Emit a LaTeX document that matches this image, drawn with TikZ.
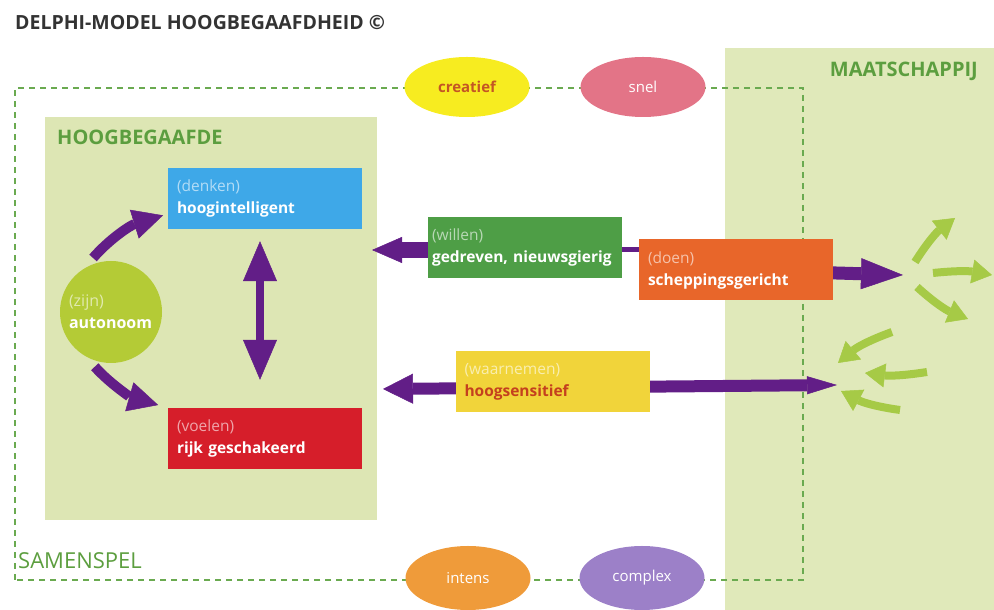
\documentclass[tikz,border=0pt]{standalone}
\usepackage{fontspec}
\setmainfont{Open Sans}
\usetikzlibrary{positioning,shapes.geometric,arrows.meta,calc}

\definecolor{panelgreen}{RGB}{221,230,180}
\definecolor{societygreen}{RGB}{224,233,186}
\definecolor{headgreen}{RGB}{92,158,63}
\definecolor{dashgreen}{RGB}{106,170,80}
\definecolor{thinkblue}{RGB}{62,168,232}
\definecolor{feelred}{RGB}{214,30,42}
\definecolor{willgreen}{RGB}{78,158,70}
\definecolor{doorange}{RGB}{232,102,42}
\definecolor{senseyellow}{RGB}{241,212,58}
\definecolor{senseorange}{RGB}{196,64,30}
\definecolor{beinglime}{RGB}{180,203,54}
\definecolor{arrowpurple}{RGB}{98,30,135}
\definecolor{sproutgreen}{RGB}{166,202,70}
\definecolor{creayellow}{RGB}{247,236,32}
\definecolor{creaorange}{RGB}{196,86,36}
\definecolor{fastpink}{RGB}{227,116,135}
\definecolor{intenseorange}{RGB}{239,155,58}
\definecolor{complexpurple}{RGB}{156,128,200}
\definecolor{titlegray}{RGB}{51,51,51}

\pgfdeclarelayer{panels}
\pgfdeclarelayer{links}
\pgfsetlayers{panels,links,main}

\newcommand{\soft}[2]{\textcolor{white!60!#1}{#2}}

\tikzset{
  trait/.style={rectangle, fill=#1, minimum width=194pt, minimum height=61pt,
    text width=176pt, inner xsep=9pt, align=left, text=white,
    font=\fontsize{15.5}{22}\selectfont},
  quality/.style={ellipse, fill=#1, minimum width=125pt, minimum height=60pt,
    inner sep=0pt, text=white, font=\fontsize{15}{15}\selectfont},
  heading/.style={anchor=base west, inner sep=0pt, text=headgreen,
    font=\bfseries\fontsize{20}{20}\selectfont},
  playline/.style={draw=dashgreen, line width=1.8pt, dash pattern=on 6pt off 5pt},
  bigarrow/.style={draw=arrowpurple, line width=9pt,
    -{Triangle[length=30pt,width=30pt,line width=0.5pt]}},
  sprout/.style={draw=sproutgreen, line width=8pt,
    -{Triangle[length=20pt,width=24pt,line width=0.5pt]}},
}

\begin{document}
\begin{tikzpicture}[x=1pt,y=1pt]
  \useasboundingbox (0,0) rectangle (994,610);

  % titel en kopjes
  \node[anchor=base west, inner sep=0pt, text=titlegray,
    font=\bfseries\fontsize{19.5}{19.5}\selectfont] (title) at (15,580) {DELPHI-MODEL HOOGBEGAAFDHEID ©};
  \node[heading, anchor=base east] (society) at (978,533) {MAATSCHAPPIJ};
  \node[heading] (gifted) at (57,465) {HOOGBEGAAFDE};
  \node[heading, font=\fontsize{22}{22}\selectfont] (interplay) at (18,41) {SAMENSPEL};

  % de hoogbegaafde
  \node[trait=thinkblue] (denk) at (265,411.5) {\soft{thinkblue}{(denken)}\\\textbf{hoogintelligent}};
  \node[trait=feelred, below of=denk, node distance=240pt] (voel) {\soft{feelred}{(voelen)}\\\textbf{rijk geschakeerd}};
  \node[circle, fill=beinglime, minimum size=102pt, inner sep=0pt, text width=84pt, align=left,
    text=white, font=\fontsize{16}{22}\selectfont] (zijn) at (111,298) {\soft{beinglime}{(zijn)}\\\textbf{autonoom}};

  % naar buiten en naar binnen
  \node[trait=willgreen, inner xsep=4pt, text width=186pt] (willen) at (525,362.5) {\soft{willgreen}{(willen)}\\\textbf{gedreven, nieuwsgierig}};
  \node[trait=doorange] (doen) at (736,340) {\soft{doorange}{(doen)}\\\textbf{scheppingsgericht}};
  \node[trait=senseyellow] (waar) at (552.5,228) {\soft{senseyellow}{(waarnemen)}\\\textcolor{senseorange}{\textbf{hoogsensitief}}};

  % kwaliteiten
  \node[quality=creayellow, text=creaorange, font=\bfseries\fontsize{15}{15}\selectfont] (crea) at (467,523) {creatief};
  \node[quality=fastpink] (snel) at (643,523) {snel};
  \node[quality=intenseorange, minimum height=64pt] (intens) at (468,32) {intens};
  \node[quality=complexpurple, minimum height=64pt] (complex) at (642,32) {complex};

  \coordinate (willtip) at (372,360);
  \coordinate (outtip) at (903,335);
  \coordinate (intail) at (837,225);
  \coordinate (intip) at (383,221);

  \begin{pgfonlayer}{panels}
    \fill[societygreen] (725,0) rectangle (994,562);
    \fill[panelgreen] (45,90) rectangle (377,493);
    \draw[playline] (15,30) rectangle (803,522);
  \end{pgfonlayer}

  \begin{pgfonlayer}{links}
    \draw[bigarrow, line width=10pt, shorten <=14pt, shorten >=5pt] (zijn.122) to[bend left=16] ($(denk.west)!.5!(denk.south west)$);
    \draw[bigarrow, line width=10pt, shorten <=14pt, shorten >=10pt] (zijn.240) to[bend right=16] (voel.north west);
    \draw[bigarrow, line width=8pt,
      {Triangle[length=40pt,width=34pt,line width=0.5pt]}-{Triangle[length=40pt,width=34pt,line width=0.5pt]},
      shorten <=12pt, shorten >=28pt] ([xshift=-5pt]denk.south) -- ([xshift=-5pt]voel.north);
    \draw[arrowpurple, line width=5pt] (doen.center |- willtip) -- (willen.center |- willtip);
    \draw[bigarrow, line width=16pt, -{Triangle[length=30pt,width=26pt,line width=0.5pt]}] (willen.center |- willtip) -- (willtip);
    \draw[bigarrow, line width=13pt, -{Triangle[length=42pt,width=31pt,line width=0.5pt]}] (doen.center) -- (outtip);
    \draw[bigarrow, line width=12pt,
      {Triangle[length=30pt,width=18pt,line width=0.5pt]}-{Triangle[length=30pt,width=30pt,line width=0.5pt]}] (intail) -- (intip);
    % de maatschappij
    \foreach \xa/\ya/\xb/\yb/\bend in {915/348/955/392/10, 933/337/992/335/8, 917/323/968/291/-10,
        892/278/838/247/-10, 927/238/865/237/8, 900/200/841/219/10}
      \draw[sprout] (\xa,\ya) to[bend left=\bend] (\xb,\yb);
  \end{pgfonlayer}
\end{tikzpicture}
\end{document}
